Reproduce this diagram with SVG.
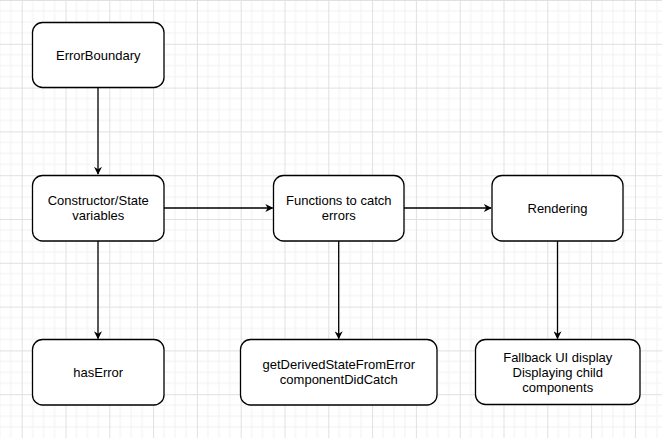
<svg xmlns="http://www.w3.org/2000/svg" width="662" height="438" viewBox="0 0 662 438">
<style>
.box{fill:#fff;stroke:#000;stroke-width:1.3}
.lbl{font-family:"Liberation Sans",Arial,sans-serif;font-size:13px;fill:#000;text-anchor:middle}
.edge{fill:none;stroke:#000;stroke-width:1.3}
.minor{stroke:#f2f2f2;stroke-width:1}
.major{stroke:#e0e0e0;stroke-width:1}
</style>
<defs>
<pattern id="grid" patternUnits="userSpaceOnUse" x="21.7" y="0" width="43.8" height="43.8">
<path class="minor" d="M10.95 0V43.8M21.9 0V43.8M32.85 0V43.8M0 10.95H43.8M0 21.9H43.8M0 32.85H43.8"/>
<path class="major" d="M0.5 0V43.8M0 0.5H43.8"/>
</pattern>
<marker id="arr" viewBox="0 0 10 10" refX="9" refY="5" markerWidth="8" markerHeight="8" markerUnits="userSpaceOnUse" orient="auto">
<path d="M0 0L10 5L0 10L3 5Z" fill="#000"/>
</marker>
</defs>
<rect width="662" height="438" fill="#fff"/>
<rect width="662" height="438" fill="url(#grid)"/>
<g id="connectors">
<path class="edge" d="M98 88V174" marker-end="url(#arr)"/>
<path class="edge" d="M98 241V338.5" marker-end="url(#arr)"/>
<path class="edge" d="M164 208H272.5" marker-end="url(#arr)"/>
<path class="edge" d="M404 208H491" marker-end="url(#arr)"/>
<path class="edge" d="M338.7 241V338.5" marker-end="url(#arr)"/>
<path class="edge" d="M557.5 241V338.5" marker-end="url(#arr)"/>
</g>
<g id="errorBoundary">
<rect class="box" x="32.5" y="22.5" width="131.5" height="65" rx="10"/>
<text class="lbl" x="98.25" y="60">ErrorBoundary</text>
</g>
<g id="constructor">
<rect class="box" x="32.5" y="175.5" width="131.5" height="65.5" rx="10"/>
<text class="lbl" x="98.25" y="205">Constructor/State</text>
<text class="lbl" x="98.25" y="220">variables</text>
</g>
<g id="functions">
<rect class="box" x="273.5" y="175.5" width="130.5" height="65.5" rx="10"/>
<text class="lbl" x="338.75" y="205">Functions to catch</text>
<text class="lbl" x="338.75" y="220">errors</text>
</g>
<g id="rendering">
<rect class="box" x="492" y="175.5" width="131" height="65.5" rx="10"/>
<text class="lbl" x="557.5" y="213">Rendering</text>
</g>
<g id="hasError">
<rect class="box" x="32.5" y="339.5" width="131.5" height="65.5" rx="10"/>
<text class="lbl" x="98.25" y="377">hasError</text>
</g>
<g id="getDerived">
<rect class="box" x="240.5" y="339.5" width="196.5" height="65.5" rx="10"/>
<text class="lbl" x="338.75" y="369">getDerivedStateFromError</text>
<text class="lbl" x="338.75" y="384">componentDidCatch</text>
</g>
<g id="fallback">
<rect class="box" x="475.5" y="339.5" width="164.5" height="65" rx="10"/>
<text class="lbl" x="557.75" y="361.5">Fallback UI display</text>
<text class="lbl" x="557.75" y="376.5">Displaying child</text>
<text class="lbl" x="557.75" y="391.5">components</text>
</g>
</svg>
